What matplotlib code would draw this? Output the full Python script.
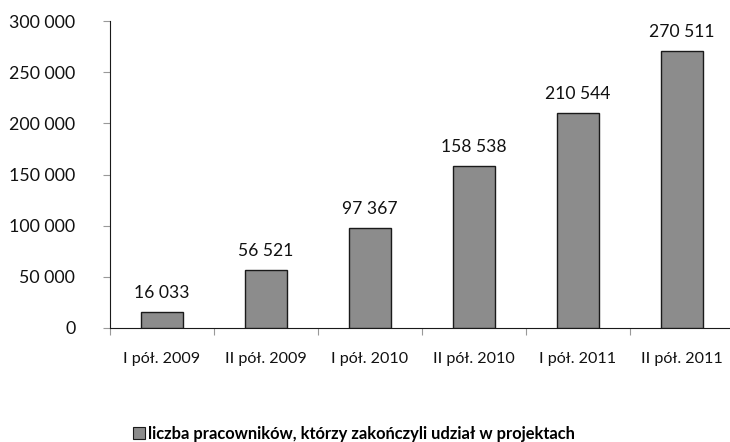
import matplotlib
matplotlib.use("Agg")
import matplotlib.pyplot as plt
from matplotlib.patches import Patch

categories = ["I pół. 2009", "II pół. 2009", "I pół. 2010", "II pół. 2010", "I pół. 2011", "II pół. 2011"]
values = [16033, 56521, 97367, 158538, 210544, 270511]
yticks = [0, 50000, 100000, 150000, 200000, 250000, 300000]
legend_label = "liczba pracowników, którzy zakończyli udział w projektach"

def fmt(v):
    return f"{v:,}".replace(",", " ")

plt.rcParams['font.family'] = ['Lato', 'DejaVu Sans']

W, H = 730, 442
fig = plt.figure(figsize=(W/100, H/100), dpi=100)
left, right, top, bottom = 110, 734, 21, 328
ax = fig.add_axes([left/W, 1-bottom/H, (right-left)/W, (bottom-top)/H])

x = list(range(len(categories)))
ax.bar(x, values, width=0.4, color="#8c8c8c", edgecolor="#1a1a1a", linewidth=1.0, zorder=3)
for xi, v in zip(x, values):
    ax.annotate(fmt(v), (xi, v), xytext=(0, 10), textcoords="offset points",
                ha="center", va="baseline", fontsize=12.6, color="#111111")

ax.set_xlim(-0.5, len(categories)-0.5)
ax.set_ylim(0, 300000)
ax.set_yticks(yticks)
ax.set_yticklabels([fmt(t) for t in yticks], fontsize=12.8, color="#111111")
ax.set_xticks([i + 0.5 for i in range(-1, len(categories))], minor=False)
ax.set_xticklabels([])
ax.set_xticks(x, minor=True)
ax.set_xticklabels(categories, minor=True, fontsize=11.6, color="#111111")

for s in ["top", "right"]:
    ax.spines[s].set_visible(False)
ax.spines["left"].set_color("#1a1a1a")
ax.spines["bottom"].set_color("#1a1a1a")

ax.xaxis.set_tick_params(which="minor", length=0, pad=17)
ax.xaxis.set_tick_params(which="major", length=5, color="#999999", direction="out")
ax.yaxis.set_tick_params(which="major", length=5, color="#999999", direction="out", pad=20)

handle = Patch(facecolor="#8c8c8c", edgecolor="#1a1a1a", linewidth=0.8)
fig.legend([handle], [legend_label], loc="center", bbox_to_anchor=(354/W, 1-434/H),
           frameon=False, prop={"weight": "bold", "size": 11.9},
           handlelength=0.7, handleheight=0.7, handletextpad=0.2)

fig.savefig("out.png", dpi=100)
